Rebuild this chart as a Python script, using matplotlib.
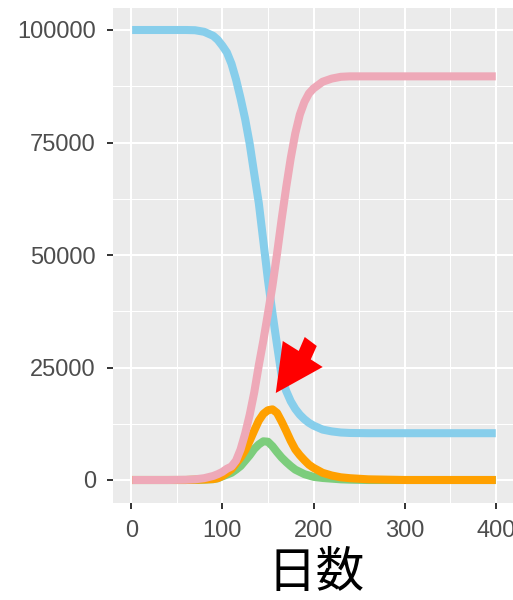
import matplotlib
matplotlib.use("Agg")
import matplotlib.pyplot as plt
from matplotlib.patches import Polygon
from matplotlib.ticker import MultipleLocator

days = [1, 20, 40, 60, 70, 80, 90, 95, 100, 105, 110, 115, 120, 125, 130, 135,
        140, 145, 150, 155, 160, 165, 170, 175, 180, 185, 190, 195, 200, 210,
        220, 230, 240, 260, 300, 350, 400]

susceptible = [100000, 100000, 100000, 100000, 99950, 99600, 98700, 97800, 96500,
               95000, 92500, 89000, 84800, 80200, 74700, 68000, 61500, 53000,
               44500, 37000, 30000, 23200, 19800, 17500, 15800, 14500, 13500,
               12700, 12100, 11200, 10800, 10550, 10450, 10400, 10400, 10400, 10400]

exposed = [0, 0, 0, 0, 50, 100, 200, 400, 800, 1200, 1600, 2300, 3100, 4300, 5500,
           6900, 7900, 8600, 8500, 7500, 6200, 5000, 4000, 3100, 2300, 1800, 1300,
           1000, 700, 450, 300, 150, 80, 0, 0, 0, 0]

infected = [0, 0, 0, 0, 50, 100, 200, 400, 900, 1600, 2400, 3700, 5000, 6600, 8700,
            11000, 13200, 14700, 15500, 15700, 14900, 13000, 10900, 8700, 6800,
            5500, 4400, 3400, 2700, 1600, 1000, 600, 400, 150, 0, 0, 0]

recovered = [0, 0, 0, 50, 150, 400, 900, 1300, 1800, 2500, 3000, 4300, 6800, 10300,
             14500, 19500, 25500, 31000, 37000, 43200, 50300, 57900, 65000, 71500,
             77000, 81200, 84000, 85900, 87000, 88500, 89200, 89600, 89700, 89700,
             89700, 89700, 89700]

x_ticks = [0, 100, 200, 300, 400]
y_ticks = [0, 25000, 50000, 75000, 100000]
x_label = "日数"

# annotation arrow (data coordinates of the outline)
arrow_outline = [(158.6, 19330), (166.3, 30890), (183.8, 28670), (190.4, 31780),
                 (203.6, 29780), (197.0, 26800), (210.1, 25110)]

fig = plt.figure(figsize=(5.13, 6.0), dpi=100)
ax = fig.add_axes([113/513, 97.5/600, 401/513, 495/600])
ax.set_facecolor("#EBEBEB")
for s in ax.spines.values():
    s.set_visible(False)

ax.set_xlim(-20, 420)
ax.set_ylim(-5000, 105000)
ax.set_xticks(x_ticks)
ax.set_yticks(y_ticks)
ax.set_yticklabels([str(v) for v in y_ticks])
ax.xaxis.set_minor_locator(MultipleLocator(50))
ax.yaxis.set_minor_locator(MultipleLocator(12500))
ax.grid(which="major", color="white", linewidth=1.5)
ax.grid(which="minor", color="white", linewidth=0.75)
ax.set_axisbelow(True)
ax.tick_params(which="minor", length=0)
ax.tick_params(which="major", length=4.3, width=1.4, color="#333333",
               labelcolor="#4D4D4D", labelsize=17)
ax.tick_params(axis="y", pad=8)
ax.tick_params(axis="x", pad=8)
for lab in ax.get_xticklabels() + ax.get_yticklabels():
    lab.set_fontfamily("Liberation Sans")

lw = 5.8
ax.plot(days, susceptible, color="#87CEEB", lw=lw, solid_capstyle="butt", solid_joinstyle="round")
ax.plot(days, exposed, color="#7CCD7C", lw=lw, solid_capstyle="butt", solid_joinstyle="round")
ax.plot(days, infected, color="#FFA000", lw=lw, solid_capstyle="butt", solid_joinstyle="round")
ax.plot(days, recovered, color="#EEA9B8", lw=lw, solid_capstyle="butt", solid_joinstyle="round")

ax.add_patch(Polygon(arrow_outline, closed=True, facecolor="#FF0000", edgecolor="none", zorder=5))

fig.text(316/513, 1 - 573/600, x_label, ha="center", va="center", fontsize=35,
         family=["Noto Sans CJK JP", "DejaVu Sans"], color="black")

fig.savefig("out.png", dpi=100)
